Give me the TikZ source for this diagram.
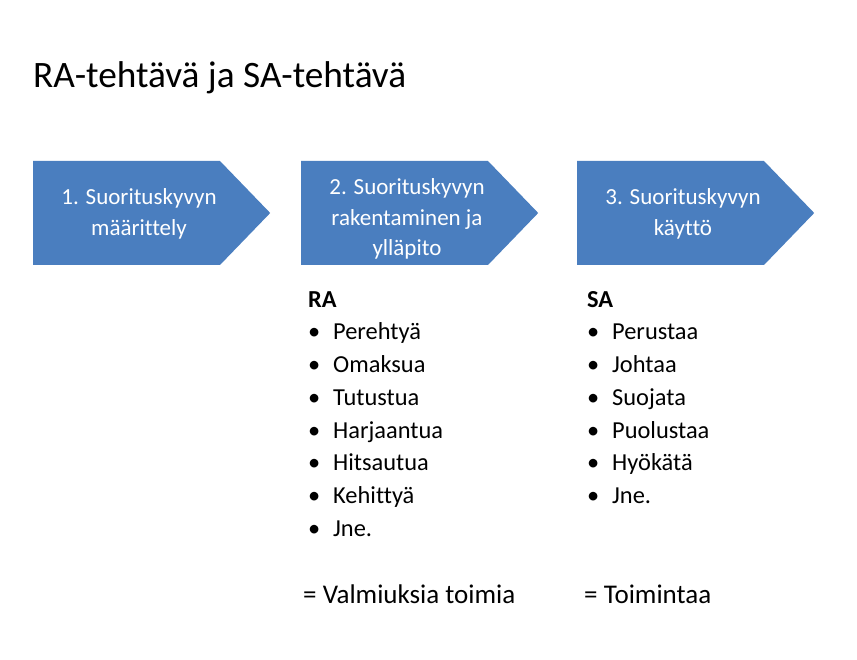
\documentclass[tikz,border=0pt]{standalone}
\usepackage{fontspec}
\setmainfont[Ligatures=NoCommon]{Carlito}
\usepackage{xcolor}
\usetikzlibrary{shapes.symbols}

\definecolor{stageblue}{HTML}{4A7EBF}

\begin{document}
\begin{tikzpicture}[x=1pt,y=-1pt,
            stage/.style={signal,signal to=east,signal pointer angle=92,fill=stageblue,
                minimum width=237pt,minimum height=104pt,inner sep=0pt,anchor=west},
            stagetext/.style={text=white,align=center,inner sep=0pt,
                font=\fontsize{23}{30.5}\selectfont},
            head/.style={anchor=base west,inner sep=0pt,font=\fontsize{24.4}{29}\selectfont\bfseries},
            item/.style={anchor=base west,inner sep=0pt,font=\fontsize{24.4}{29}\selectfont},
            sum/.style={anchor=base west,inner sep=0pt,font=\fontsize{27}{32}\selectfont},
            title/.style={anchor=base west,inner sep=0pt,font=\fontsize{37.3}{44}\selectfont}
        ]
            \useasboundingbox[fill=white] (0,0) rectangle (857,660);

            % Title
            \node[title] (T) at (33,88) {RA-tehtävä ja SA-tehtävä};

            % Stages
            \node[stage] (S1) at (33,213) {};
            \node[stage] (S2) at (301,213) {};
            \node[stage] (S3) at (577,213) {};
            \node[stagetext] (L1) at (139,214) {1. Suorituskyvyn\\määrittely};
            \node[stagetext] (L2) at (407,219) {2. Suorituskyvyn\\rakentaminen ja\\ylläpito};
            \node[stagetext] (L3) at (683,214) {3. Suorituskyvyn\\käyttö};

            % RA list
            \node[head] (RA) at (308,308) {RA};
            \foreach \w [count=\i] in {Perehtyä,Omaksua,Tutustua,Harjaantua,Hitsautua,Kehittyä,Jne.}
                \node[item] (ra\i) at (308,307.3+32.7*\i) {\makebox[25pt][l]{•}\w};
            \node[sum] (RAsum) at (303,603) {= Valmiuksia toimia};

            % SA list
            \node[head] (SA) at (587,308) {SA};
            \foreach \w [count=\i] in {Perustaa,Johtaa,Suojata,Puolustaa,Hyökätä,Jne.}
                \node[item] (sa\i) at (587,307.3+32.7*\i) {\makebox[25pt][l]{•}\w};
            \node[sum] (SAsum) at (584,603) {= Toimintaa};
        \end{tikzpicture}
\end{document}
